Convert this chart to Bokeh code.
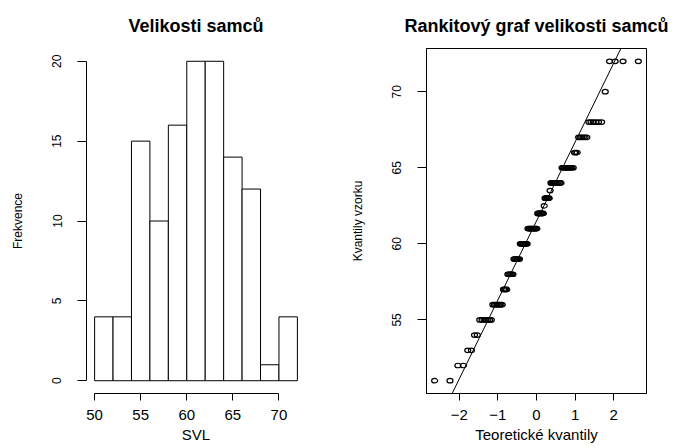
import numpy as np
from statistics import NormalDist
from bokeh.plotting import figure
from bokeh.layouts import row
from bokeh.models import Range1d, FixedTicker, Slope, ColumnDataSource
from bokeh.embed import file_html
from bokeh.resources import INLINE

# ---------------- data ----------------
# histogram of SVL (R breaks, right-closed bins)
bin_left = [50, 52, 54, 56, 58, 60, 62, 64, 66, 68, 70]
bin_right = [52, 54, 56, 58, 60, 62, 64, 66, 68, 70, 72]
bin_counts = [4, 4, 15, 10, 16, 20, 20, 14, 12, 1, 4]

# sample values (SVL) with their multiplicities
svl_values = [51, 52, 53, 54, 55, 56, 57, 58, 59, 60, 61, 62, 62.5, 63, 63.5, 64, 65, 66, 67, 68, 70, 72]
svl_counts = [2, 2, 2, 2, 7, 8, 4, 6, 7, 9, 12, 8, 1, 6, 1, 12, 11, 3, 6, 6, 1, 4]

hist_xticks = [50, 55, 60, 65, 70]
hist_yticks = [0, 5, 10, 15, 20]
qq_xticks = [-2, -1, 0, 1, 2]
qq_yticks = [55, 60, 65, 70]

title_hist = "Velikosti samců"
title_qq = "Rankitový graf velikosti samců"
xlab_hist = "SVL"
ylab_hist = "Frekvence"
xlab_qq = "Teoretické kvantily"
ylab_qq = "Kvantily vzorku"

FONT = "Liberation Sans"


def r_range(lo, hi):
    d = (hi - lo) * 0.04
    return Range1d(lo - d, hi + d)


def style(p, xticks, yticks, xbounds=None, ybounds=None):
    p.grid.visible = False
    for ax in (p.xaxis[0], p.yaxis[0]):
        ax.axis_line_color = "black"
        ax.major_tick_line_color = "black"
        ax.minor_tick_line_color = None
        ax.major_tick_in = 0
        ax.major_label_text_font = FONT
        ax.major_label_text_color = "black"
        ax.axis_label_text_font = FONT
        ax.axis_label_text_font_style = "normal"
        ax.axis_label_text_color = "black"
    xa, ya = p.xaxis[0], p.yaxis[0]
    xa.ticker = FixedTicker(ticks=xticks)
    ya.ticker = FixedTicker(ticks=yticks)
    xa.major_tick_out = 7
    ya.major_tick_out = 9
    xa.major_label_text_font_size = "15px"
    ya.major_label_text_font_size = "12px"
    xa.axis_label_text_font_size = "15px"
    ya.axis_label_text_font_size = "12px"
    xa.major_label_standoff = 9
    ya.major_label_standoff = 16
    xa.axis_label_standoff = 3
    ya.axis_label_standoff = 25
    ya.major_label_orientation = "parallel"
    if xbounds:
        xa.bounds = xbounds
    if ybounds:
        ya.bounds = ybounds
    p.title.text_font = FONT
    p.title.text_font_size = "18px"
    p.title.text_font_style = "bold"
    p.title.align = "center"
    p.title.text_color = "black"
    p.title.standoff = 26


# ---------------- histogram ----------------
p1 = figure(width=340, height=448, output_backend="svg", toolbar_location=None,
            x_range=r_range(min(bin_left), max(bin_right)),
            y_range=r_range(0, max(bin_counts)),
            min_border_left=86, min_border_right=35, min_border_top=48, min_border_bottom=55,
            title=title_hist, x_axis_label=xlab_hist, y_axis_label=ylab_hist)
p1.outline_line_color = None
src_h = ColumnDataSource(dict(left=bin_left, right=bin_right, top=bin_counts,
                              bottom=[0] * len(bin_counts)))
p1.quad(left="left", right="right", top="top", bottom="bottom", source=src_h,
        fill_color="white", line_color="black", line_width=1)
style(p1, hist_xticks, hist_yticks, xbounds=(50, 70), ybounds=(0, 20))

# ---------------- QQ plot ----------------
sample = np.repeat(np.array(svl_values, dtype=float), svl_counts)
sample.sort()
n = len(sample)
nd = NormalDist()
theo = np.array([nd.inv_cdf((i + 0.5) / n) for i in range(n)])

q1, q3 = np.quantile(sample, [0.25, 0.75])
t1, t3 = nd.inv_cdf(0.25), nd.inv_cdf(0.75)
slope = (q3 - q1) / (t3 - t1)
intercept = q1 - slope * t1

p2 = figure(width=341, height=448, output_backend="svg", toolbar_location=None,
            x_range=r_range(theo.min(), theo.max()),
            y_range=r_range(sample.min(), sample.max()),
            min_border_left=86, min_border_right=35, min_border_top=48, min_border_bottom=54,
            title=title_qq, x_axis_label=xlab_qq, y_axis_label=ylab_qq)
p2.outline_line_color = "black"
p2.outline_line_width = 1
p2.ellipse(x=theo, y=sample, width=6, height=4.5, width_units="screen", height_units="screen",
           fill_color=None, line_color="black", line_width=1.2)
p2.add_layout(Slope(gradient=slope, y_intercept=intercept, line_color="black", line_width=1))
style(p2, qq_xticks, qq_yticks)

layout = row(p1, p2)
open("out.html", "w").write(file_html(layout, INLINE))
